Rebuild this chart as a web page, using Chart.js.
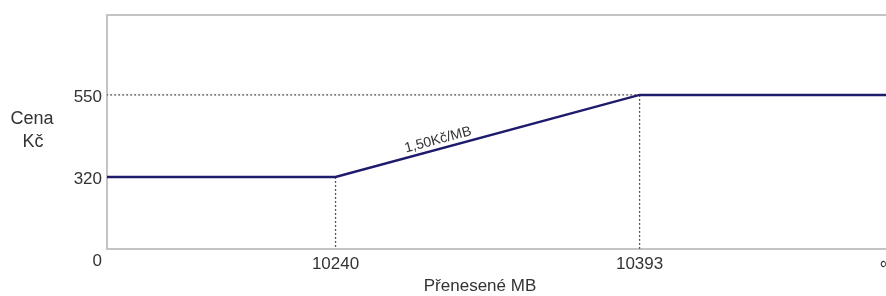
<!DOCTYPE html>
<html>
<head>
<meta charset="utf-8">
<script src="https://cdn.jsdelivr.net/npm/chart.js@4/dist/chart.umd.min.js"></script>
<style>
  html, body { margin: 0; padding: 0; background: #fff; }
  #wrap { width: 886px; height: 296px; }
</style>
</head>
<body>
<div id="wrap"><canvas id="priceChart"></canvas></div>
<script>
// Price (Kč) vs transferred data (MB) - schematic, broken x axis
const transferredMB = [0, 10240, 10393, 10517];   // last point runs off to "∞"
const priceCZK = [320, 320, 550, 550];
const xTickValues = [10240, 10393];
const yTickValues = [320, 550];
const rateLabel = '1,50Kč/MB';

// visible window of the (broken) axes
const xMin = 10125, xMax = 10517;
const yMin = 118, yMax = 774;
const originValue = 90;  // where the shared "0" sits, just under the corner

const lineColor = '#1e1b6c';
const guideColor = '#555';
const frameColor = '#c4c4c4';
const textColor = '#333';
const fontFamily = 'Arial, "Liberation Sans", sans-serif';

const pts = transferredMB.map((x, i) => ({ x: x, y: priceCZK[i] }));

// dotted helper lines from the break points
const guides = [
  [{ x: transferredMB[0], y: priceCZK[2] }, { x: transferredMB[2], y: priceCZK[2] }],
  [{ x: transferredMB[1], y: priceCZK[1] }, { x: transferredMB[1], y: 0 }],
  [{ x: transferredMB[2], y: priceCZK[2] }, { x: transferredMB[2], y: 0 }]
];

const extras = {
  id: 'extras',
  beforeDatasetsDraw(chart) {
    const { ctx, chartArea } = chart;
    ctx.save();
    ctx.strokeStyle = frameColor;
    ctx.lineWidth = 2;
    ctx.beginPath();
    ctx.moveTo(chartArea.left, chartArea.top);
    ctx.lineTo(chartArea.right, chartArea.top);
    ctx.stroke();
    ctx.restore();
  },
  afterDraw(chart) {
    const { ctx, scales, chartArea } = chart;
    const x = scales.x, y = scales.y;
    // rate label along the sloped segment
    const x1 = x.getPixelForValue(transferredMB[1]), y1 = y.getPixelForValue(priceCZK[1]);
    const x2 = x.getPixelForValue(transferredMB[2]), y2 = y.getPixelForValue(priceCZK[2]);
    const ang = Math.atan2(y2 - y1, x2 - x1);
    const t = 0.345;
    ctx.save();
    ctx.translate(x1 + (x2 - x1) * t, y1 + (y2 - y1) * t);
    ctx.rotate(ang);
    ctx.fillStyle = textColor;
    ctx.font = '14px ' + fontFamily;
    ctx.textAlign = 'center';
    ctx.textBaseline = 'bottom';
    ctx.fillText(rateLabel, 0, -2);
    ctx.restore();

    ctx.save();
    ctx.fillStyle = textColor;
    ctx.font = '18px ' + fontFamily;
    ctx.textAlign = 'center';
    ctx.textBaseline = 'middle';
    // y axis title, horizontal on two lines
    ctx.fillText('Cena', 32, 119);
    ctx.fillText('Kč', 33, 142);
    // x axis title
    ctx.font = '17px ' + fontFamily;
    ctx.fillText('Přenesené MB', 480, 286);
    ctx.restore();
  }
};

new Chart(document.getElementById('priceChart'), {
  type: 'line',
  data: {
    datasets: [
      {
        data: pts,
        borderColor: lineColor,
        borderWidth: 2.5,
        pointRadius: 0,
        tension: 0
      }
    ].concat(guides.map(g => ({
      data: g,
      borderColor: guideColor,
      borderWidth: 1.3,
      borderDash: [2, 2],
      pointRadius: 0
    })))
  },
  options: {
    responsive: true,
    maintainAspectRatio: false,
    animation: false,
    layout: { padding: { top: 15, left: 0, right: 0, bottom: 0 } },
    plugins: { legend: { display: false }, tooltip: { enabled: false } },
    scales: {
      x: {
        type: 'linear',
        min: xMin,
        max: xMax,
        grid: { display: false, drawTicks: false },
        border: { display: true, color: frameColor, width: 2 },
        afterBuildTicks: s => { s.ticks = xTickValues.concat([xMax]).map(v => ({ value: v })); },
        afterFit: s => { s.height = 47; s.paddingLeft = 0; s.paddingRight = 0; },
        ticks: {
          autoSkip: false,
          maxRotation: 0,
          padding: 5,
          color: textColor,
          font: { size: 17, family: fontFamily },
          callback: v => (v === xMax ? '∞' : String(v))
        }
      },
      y: {
        min: yMin,
        max: yMax,
        grid: { display: false, drawTicks: false },
        border: { display: true, color: frameColor, width: 2 },
        afterBuildTicks: s => { s.ticks = [originValue].concat(yTickValues).map(v => ({ value: v })); },
        afterFit: s => { s.width = 107; s.paddingTop = 0; s.paddingBottom = 0; },
        ticks: {
          autoSkip: false,
          padding: 5,
          labelOffset: 2,
          color: textColor,
          font: { size: 17, family: fontFamily },
          callback: v => (v === originValue ? '0' : String(v))
        }
      }
    }
  },
  plugins: [extras]
});
</script>
</body>
</html>
